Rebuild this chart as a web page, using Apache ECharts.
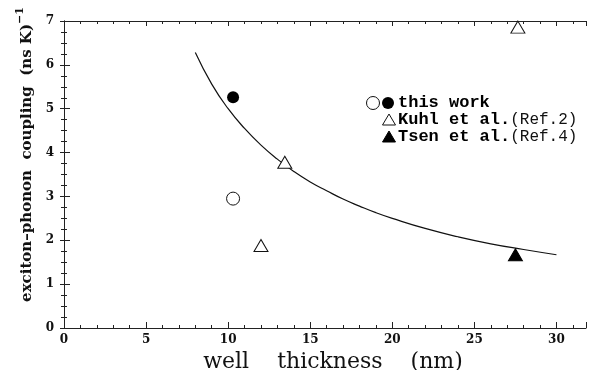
<!DOCTYPE html>
<html><head><meta charset="utf-8">
<script src="https://cdn.jsdelivr.net/npm/echarts@6/dist/echarts.min.js"></script>
<style>html,body{margin:0;padding:0;background:#fff}#c{width:589px;height:370px}</style>
</head><body><div id="c"></div>
<script>
// Data
var thisWorkOpen = [[10.3, 2.95]];
var thisWorkFilled = [[10.3, 5.26]];
var kuhl = [[12.0, 1.88], [13.45, 3.78], [27.65, 6.86]];
var tsen = [[27.5, 1.67]];
var fitX = [8, 9, 10, 11, 12, 13, 14, 15, 16, 17, 18, 19, 20, 22, 24, 26, 28, 30];
var fitY = [6.28, 5.56, 5.0, 4.55, 4.17, 3.85, 3.57, 3.33, 3.13, 2.94, 2.78, 2.63, 2.5, 2.27, 2.08, 1.92, 1.79, 1.67];
var xTicks = [0, 5, 10, 15, 20, 25, 30];
var yTicks = [0, 1, 2, 3, 4, 5, 6, 7];

var fit = fitX.map(function (x, i) { return [x, fitY[i]]; });
var chart = echarts.init(document.getElementById('c'));
var lblFont = { fontFamily: 'DejaVu Serif', fontWeight: 'bold', fontSize: 12, color: '#111' };
var axLine = { show: true, lineStyle: { color: '#222', width: 1 } };
var X0 = 0, X1 = 31.8;
function xAx(pos, interval, len, labels, line) {
  return {
    type: 'value', position: pos, min: X0, max: X1, interval: interval,
    axisLine: line ? axLine : { show: false },
    axisTick: { show: true, inside: true, length: len, lineStyle: { color: '#222' } },
    splitLine: { show: false },
    axisLabel: labels ? Object.assign({ show: true, margin: 6, formatter: function (v) { return xTicks.indexOf(v) >= 0 ? String(v) : ''; } }, lblFont) : { show: false }
  };
}
var option = {
  animation: false,
  grid: { left: 64, right: 3, top: 21, bottom: 42, containLabel: false, outerBoundsMode: 'none' },
  xAxis: [
    Object.assign(xAx('bottom', 5, 6, true, true), {
      name: 'well    thickness    (nm)', nameLocation: 'middle', nameGap: 18,
      nameTextStyle: { fontFamily: 'DejaVu Serif', fontSize: 22, color: '#111', lineHeight: 22, padding: [0, 0, 0, 16] }
    }),
    xAx('bottom', 1, 3, false, false),
    xAx('top', 5, 5, false, true),
    xAx('top', 1, 3, false, false)
  ],
  yAxis: [
    {
      type: 'value', position: 'left', min: 0, max: 7, interval: 1,
      axisLine: axLine,
      axisTick: { show: true, inside: true, length: 6, lineStyle: { color: '#222' } },
      minorTick: { show: true, splitNumber: 4, length: 3, lineStyle: { color: '#222' } },
      splitLine: { show: false },
      axisLabel: Object.assign({ margin: 10, formatter: function (v) { return yTicks.indexOf(v) >= 0 ? String(v) : ''; } }, lblFont),
      name: '{m|exciton–phonon  coupling  (ns K)}{s|−1}', nameLocation: 'middle', nameGap: 24,
      nameTextStyle: {
        padding: [0, 0, 0, 40],
        rich: {
          m: { fontFamily: 'DejaVu Serif', fontWeight: 'bold', fontSize: 15, color: '#111', lineHeight: 20, verticalAlign: 'bottom' },
          s: { fontFamily: 'DejaVu Serif', fontWeight: 'bold', fontSize: 11, color: '#111', lineHeight: 20, verticalAlign: 'top' }
        }
      }
    },
    {
      type: 'value', position: 'right', min: 0, max: 7, interval: 1,
      axisLine: axLine,
      axisTick: { show: true, inside: true, length: 4, lineStyle: { color: '#222' } },
      minorTick: { show: true, splitNumber: 4, length: 3, lineStyle: { color: '#222' } },
      splitLine: { show: false }, axisLabel: { show: false }
    }
  ],
  series: [
    { type: 'line', data: fit, smooth: true, showSymbol: false, symbol: 'none', lineStyle: { color: '#111', width: 1.2 }, xAxisIndex: 0, yAxisIndex: 0, z: 2 },
    { type: 'scatter', data: thisWorkOpen, symbol: 'circle', symbolSize: 13, itemStyle: { color: '#fff', borderColor: '#111', borderWidth: 1, opacity: 1 }, z: 3 },
    { type: 'scatter', data: thisWorkFilled, symbol: 'circle', symbolSize: 12, itemStyle: { color: '#000', opacity: 1 }, z: 3 },
    { type: 'scatter', data: kuhl, symbol: 'triangle', symbolSize: [14, 12], itemStyle: { color: '#fff', borderColor: '#111', borderWidth: 1, opacity: 1 }, clip: false, z: 3 },
    { type: 'scatter', data: tsen, symbol: 'triangle', symbolSize: [14, 12], itemStyle: { color: '#000', borderColor: '#000', borderWidth: 1, opacity: 1 }, z: 3 }
  ],
  graphic: [
    { type: 'circle', shape: { cx: 373, cy: 103, r: 6.5 }, style: { fill: '#fff', stroke: '#111', lineWidth: 1 } },
    { type: 'circle', shape: { cx: 388, cy: 103, r: 6 }, style: { fill: '#000' } },
    { type: 'polygon', shape: { points: [[389, 114], [395.5, 125], [382.5, 125]] }, style: { fill: '#fff', stroke: '#111', lineWidth: 1 } },
    { type: 'polygon', shape: { points: [[389, 131], [395.5, 142], [382.5, 142]] }, style: { fill: '#000', stroke: '#000', lineWidth: 1 } },
    { type: 'text', x: 398, y: 103, style: { text: '{b|this work}', textVerticalAlign: 'middle', rich: { b: { fontFamily: 'Liberation Mono', fontWeight: 'bold', fontSize: 17, fill: '#000' } } } },
    { type: 'text', x: 398, y: 120, style: { text: '{b|Kuhl et al.}{r|(Ref.2)}', textVerticalAlign: 'middle', rich: { b: { fontFamily: 'Liberation Mono', fontWeight: 'bold', fontSize: 17, fill: '#000' }, r: { fontFamily: 'Liberation Mono', fontSize: 16, fill: '#111' } } } },
    { type: 'text', x: 398, y: 137, style: { text: '{b|Tsen et al.}{r|(Ref.4)}', textVerticalAlign: 'middle', rich: { b: { fontFamily: 'Liberation Mono', fontWeight: 'bold', fontSize: 17, fill: '#000' }, r: { fontFamily: 'Liberation Mono', fontSize: 16, fill: '#111' } } } }
  ]
};
chart.setOption(option);
</script></body></html>
